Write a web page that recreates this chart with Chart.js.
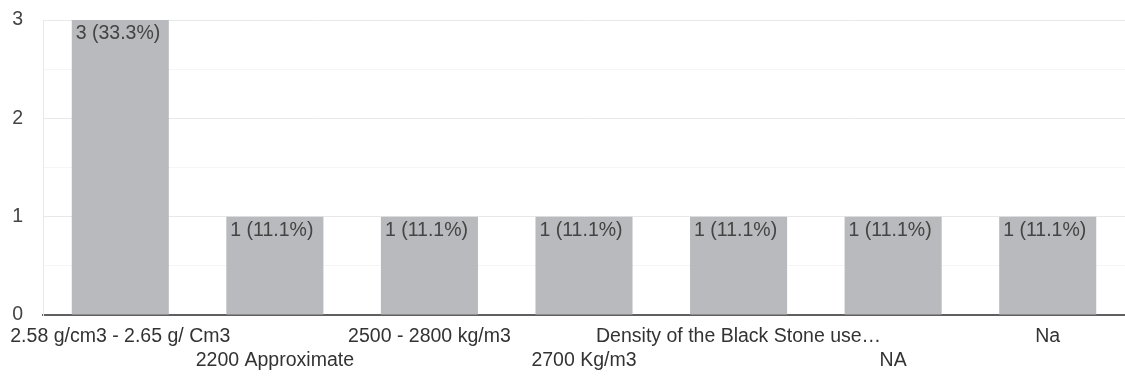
<!DOCTYPE html>
<html>
<head>
<meta charset="utf-8">
<script src="https://cdn.jsdelivr.net/npm/chart.js@4"></script>
<style>
html,body{margin:0;padding:0;background:#fff;}
#wrap{position:relative;width:1125px;height:378px;}
</style>
</head>
<body>
<div id="wrap"><canvas id="c"></canvas></div>
<script>
const categories = [
  "2.58 g/cm3 - 2.65 g/ Cm3",
  "2200 Approximate",
  "2500 - 2800 kg/m3",
  "2700 Kg/m3",
  "Density of the Black Stone use…",
  "NA",
  "Na"
];
const counts = [3, 1, 1, 1, 1, 1, 1];
const percents = ["33.3%", "11.1%", "11.1%", "11.1%", "11.1%", "11.1%", "11.1%"];
const yTicks = [0, 1, 2, 3];

const FONT = "'Liberation Sans', Arial, sans-serif";

const barLabels = {
  id: 'barLabels',
  afterDatasetsDraw(chart) {
    const ctx = chart.ctx;
    const meta = chart.getDatasetMeta(0);
    ctx.save();
    ctx.font = '19.5px ' + FONT;
    ctx.fillStyle = '#444444';
    ctx.textBaseline = 'top';
    ctx.textAlign = 'left';
    meta.data.forEach((bar, i) => {
      const left = bar.x - bar.width / 2;
      ctx.fillText(counts[i] + ' (' + percents[i] + ')', left + 4, bar.y + 4);
    });
    ctx.restore();
  }
};

new Chart(document.getElementById('c'), {
  type: 'bar',
  data: {
    labels: categories.map((c, i) => i % 2 === 0 ? [c, ''] : ['', c]),
    datasets: [{
      data: counts,
      backgroundColor: '#b9babd',
      borderWidth: 0,
      categoryPercentage: 1,
      barPercentage: 0.628
    }]
  },
  options: {
    responsive: true,
    maintainAspectRatio: false,
    animation: false,
    layout: { padding: { top: 20, left: 0, right: 0, bottom: 0 } },
    plugins: { legend: { display: false }, tooltip: { enabled: false } },
    scales: {
      x: {
        afterFit(scale) { scale.height = 63; scale.paddingLeft = 0; scale.paddingRight = 0; scale.paddingTop = 0; scale.paddingBottom = 0; },
        grid: { display: false },
        border: { display: true, color: '#5f5f5f', width: 2 },
        ticks: {
          autoSkip: false, maxRotation: 0, minRotation: 0,
          color: '#333333', padding: 2,
          font: { family: FONT, size: 19.5, lineHeight: 1.23 }
        }
      },
      y: {
        min: 0, max: 3,
        afterFit(scale) { scale.width = 43; scale.paddingTop = 0; scale.paddingBottom = 0; scale.paddingLeft = 0; scale.paddingRight = 0; },
        ticks: {
          stepSize: 0.5,
          padding: 20,
          color: '#444444',
          font: { family: FONT, size: 19.5 },
          callback: (v) => yTicks.includes(v) ? String(v) : ''
        },
        grid: {
          drawTicks: false,
          color: (ctx) => Number.isInteger(ctx.tick.value) ? '#e8e8e8' : '#f5f5f5'
        },
        border: { display: true, color: '#e8e8e8' }
      }
    }
  },
  plugins: [barLabels]
});
</script>
</body>
</html>
